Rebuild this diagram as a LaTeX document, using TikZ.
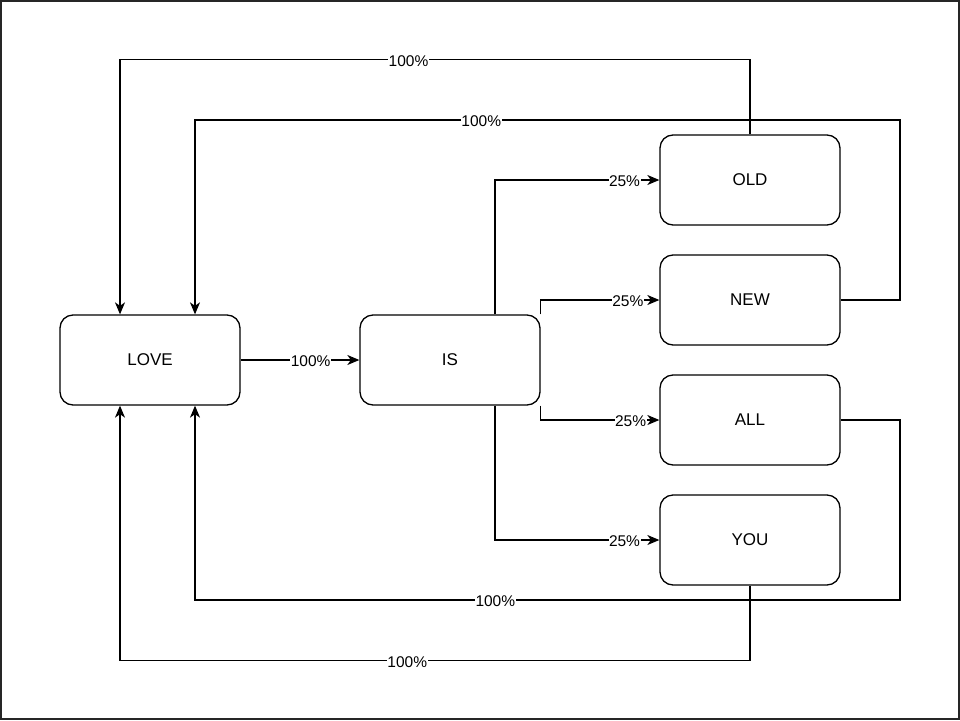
\documentclass[tikz,border=0pt]{standalone}
\usepackage{fontspec}
\setmainfont{Liberation Sans}
\usetikzlibrary{arrows.meta}
\begin{document}
\begin{tikzpicture}[x=1pt,y=-1pt,
  box/.style={draw, line width=1.3pt, rounded corners=13pt, minimum width=180pt, minimum height=90pt, inner sep=0pt, font=\fontsize{17}{20}\selectfont},
  conn/.style={line width=1.2pt, -{Stealth[length=12pt,width=10pt,inset=3.5pt]}},
  lab/.style={fill=white, inner sep=0.5pt, yshift=-1.5pt, font=\fontsize{15.5}{18}\selectfont}]
\useasboundingbox (0,0) rectangle (960,720);
\draw[line width=1.6pt, black!85] (1,1) rectangle (959,719);
\node[box] (love) at (150,360) {LOVE};
\node[box] (is) at (450,360) {IS};
\node[box] (old) at (750,180) {OLD};
\node[box] (new) at (750,300) {NEW};
\node[box] (all) at (750,420) {ALL};
\node[box] (you) at (750,540) {YOU};
\coordinate (r1) at (900,120);
\coordinate (r2) at (900,600);
% forward
\draw[conn] (love.east) -- node[lab, pos=0.59] {100\%} (is.west);
\draw[conn] ([xshift=45pt]is.north) |- node[lab, pos=0.894] {25\%} (old.west);
\draw[conn] (is.north east) |- node[lab, pos=0.867] {25\%} (new.west);
\draw[conn] (is.south east) |- node[lab, pos=0.879] {25\%} (all.west);
\draw[conn] ([xshift=45pt]is.south) |- node[lab, pos=0.894] {25\%} (you.west);
% back
\draw[conn] (old.north) -- ++(0,-75) -| node[lab, pos=0.271] {100\%} ([xshift=-30pt]love.north);
\draw[conn] (new.east) -| (r1) -| node[lab, pos=0.297] {100\%} ([xshift=45pt]love.north);
\draw[conn] (all.east) -| (r2) -| node[lab, pos=0.287] {100\%} ([xshift=45pt]love.south);
\draw[conn] (you.south) -- ++(0,75) -| node[lab, pos=0.272] {100\%} ([xshift=-30pt]love.south);
\end{tikzpicture}
\end{document}
